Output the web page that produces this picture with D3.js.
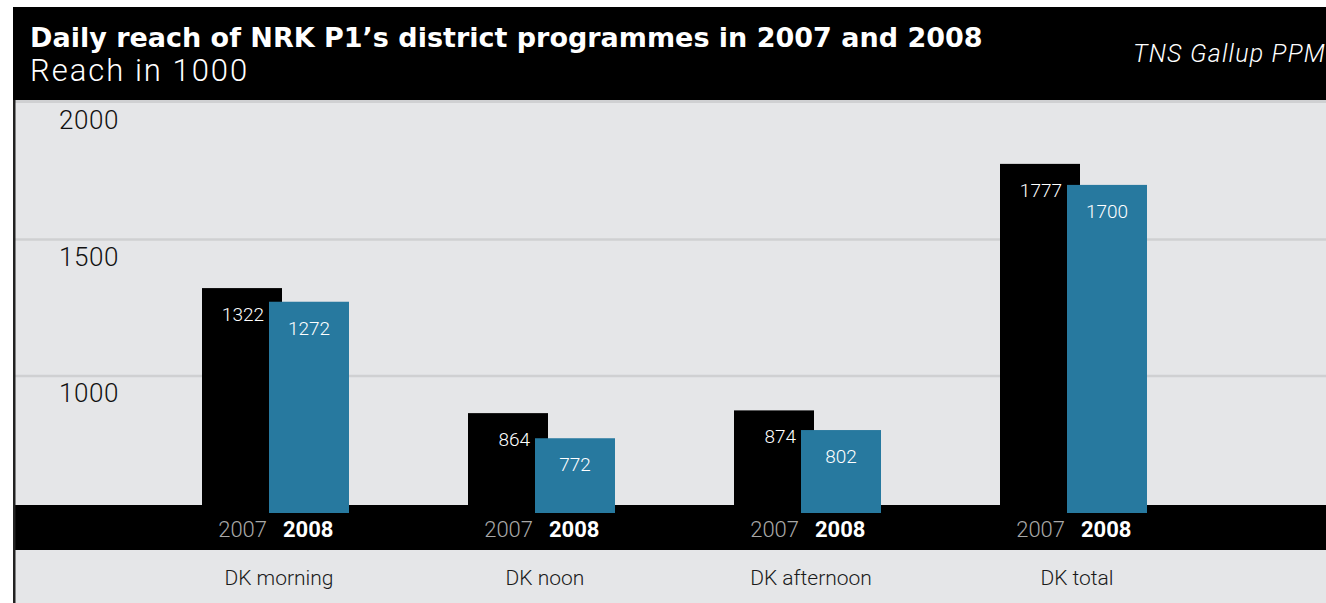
<!DOCTYPE html>
<html><head><meta charset="utf-8">
<script src="https://cdn.jsdelivr.net/npm/d3@7"></script>
<style>
html,body{margin:0;padding:0;background:#fff;overflow:hidden}
svg{display:block}
</style></head>
<body>
<svg id="chart" width="1326" height="603"></svg>
<script>
const title = "Daily reach of NRK P1\u2019s district programmes in 2007 and 2008";
const subtitle = "Reach in 1000";
const source = "TNS Gallup PPM";
const categories = ["DK morning", "DK noon", "DK afternoon", "DK total"];
const years = ["2007", "2008"];
const values2007 = [1322, 864, 874, 1777];
const values2008 = [1272, 772, 802, 1700];
const yTicks = [1000, 1500, 2000];

const W = 1326, H = 603;
const svg = d3.select("#chart");
const FONT = "Roboto, 'Open Sans', sans-serif";

const y = d3.scaleLinear().domain([0, 2000]).range([649, 103]);
const x = d3.scaleBand().domain(categories).range([136, 1200]).padding(0);
const barW = 80, offset = 67;
const baseVal = 500;

// plot background
svg.append("rect").attr("x", 13).attr("y", 100).attr("width", W - 13).attr("height", H - 100).attr("fill", "#e5e6e8");

// gridlines
svg.append("g").selectAll("line").data(yTicks).join("line")
  .attr("x1", 15).attr("x2", W)
  .attr("y1", d => d === 2000 ? 101.5 : y(d)).attr("y2", d => d === 2000 ? 101.5 : y(d))
  .attr("stroke", "#cfd0d2").attr("stroke-width", d => d === 2000 ? 3 : 2.5);

// tick labels
svg.append("g").selectAll("text").data(yTicks).join("text")
  .attr("x", 59).attr("y", d => y(d) + 26)
  .attr("font-family", FONT).attr("font-size", 26).attr("font-weight", 300)
  .attr("letter-spacing", 0.6)
  .attr("fill", "#111").text(d => d);

// black band
svg.append("rect").attr("x", 13).attr("y", 505).attr("width", W - 13).attr("height", 45).attr("fill", "#000");

// bars
const g = svg.append("g");
categories.forEach((c, i) => {
  const cx = x(c) + x.bandwidth() / 2;
  const v1 = values2007[i], v2 = values2008[i];
  g.append("rect").attr("x", cx - offset).attr("y", y(v1)).attr("width", barW)
    .attr("height", y(baseVal) - y(v1) + 0.5).attr("fill", "#000");
  g.append("rect").attr("x", cx).attr("y", y(v2)).attr("width", barW)
    .attr("height", y(baseVal) - y(v2) + 0.5).attr("fill", "#27799f");
  g.append("text").attr("x", cx - 5).attr("y", y(v1) + 33).attr("text-anchor", "end")
    .attr("font-family", FONT).attr("font-size", 19).attr("font-weight", 300)
    .attr("fill", "#fff").text(v1);
  g.append("text").attr("x", cx + barW / 2).attr("y", y(v2) + 33).attr("text-anchor", "middle")
    .attr("font-family", FONT).attr("font-size", 19).attr("font-weight", 300)
    .attr("fill", "#fff").text(v2);
  g.append("text").attr("x", cx - 2).attr("y", 537).attr("text-anchor", "end")
    .attr("font-family", FONT).attr("font-size", 22).attr("font-weight", 300)
    .attr("fill", "#a8a8a8").text(years[0]);
  g.append("text").attr("x", cx + 14).attr("y", 537).attr("text-anchor", "start")
    .attr("font-family", FONT).attr("font-size", 22).attr("font-weight", 700)
    .attr("fill", "#fff").text(years[1]);
  g.append("text").attr("x", cx + 10).attr("y", 585).attr("text-anchor", "middle")
    .attr("font-family", FONT).attr("font-size", 21).attr("font-weight", 300)
    .attr("fill", "#1a1a1a").text(c);
});

// left border
svg.append("rect").attr("x", 13).attr("y", 7).attr("width", 2.5).attr("height", H - 7).attr("fill", "#222");

// header
svg.append("rect").attr("x", 13).attr("y", 7).attr("width", W - 13).attr("height", 93).attr("fill", "#000");
svg.append("text").attr("x", 30).attr("y", 47)
  .attr("font-family", "'DejaVu Sans', sans-serif").attr("font-size", 27).attr("font-weight", 700)
  .attr("fill", "#fff").text(title);
svg.append("text").attr("x", 30).attr("y", 81)
  .attr("font-family", FONT).attr("font-size", 31).attr("font-weight", 300)
  .attr("letter-spacing", 2)
  .attr("fill", "#fff").text(subtitle);
svg.append("text").attr("x", 1133).attr("y", 62)
  .attr("font-family", FONT).attr("font-size", 25).attr("font-weight", 300).attr("font-style", "italic")
  .attr("letter-spacing", 1.2)
  .attr("fill", "#fff").text(source);
</script>
</body></html>
